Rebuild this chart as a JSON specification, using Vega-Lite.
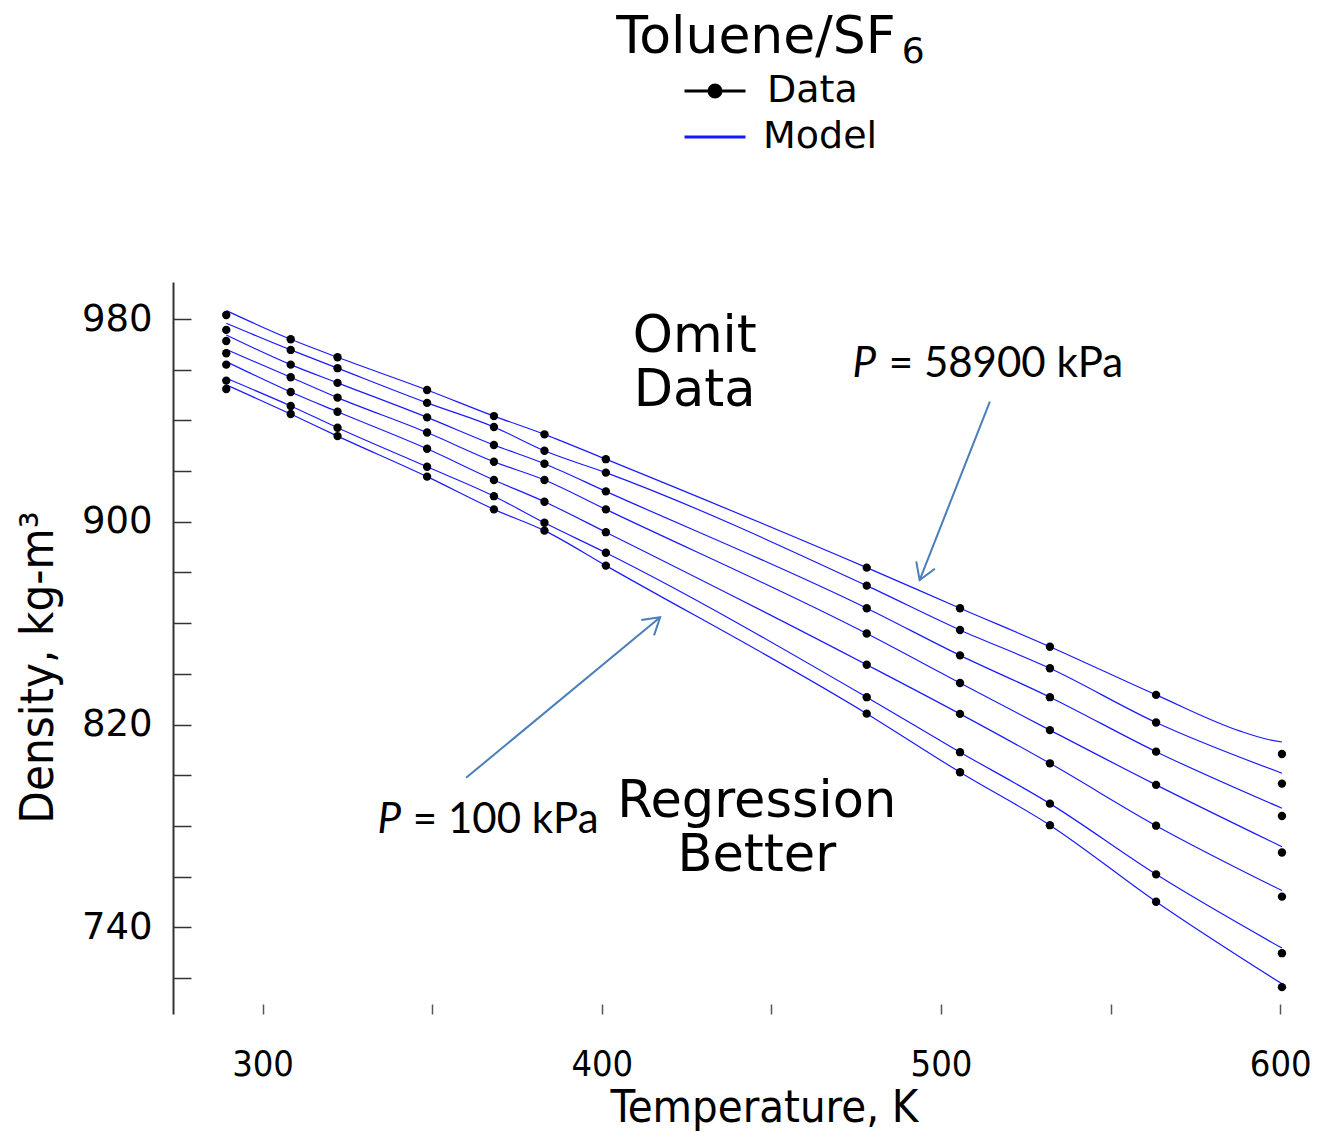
{
  "$schema": "https://vega.github.io/schema/vega-lite/v6.json",
  "width": 1112,
  "height": 732,
  "autosize": {"type": "none"},
  "padding": {"left": 173, "top": 282, "right": 45, "bottom": 118},
  "background": "white",
  "config": {"view": {"stroke": null}, "font": "DejaVu Sans"},
  "title": {
    "text": "Toluene/SF",
    "font": "DejaVu Sans",
    "fontSize": 52,
    "fontWeight": "normal",
    "color": "black",
    "anchor": "middle",
    "frame": "group",
    "dx": 27,
    "baseline": "alphabetic",
    "offset": -71
  },
  "datasets": {
    "model": [
      {"s":1,"kind":"Model","T":289.3,"D":983.3},{"s":1,"kind":"Model","T":308.3,"D":972.0},{"s":1,"kind":"Model","T":322.1,"D":964.9},{"s":1,"kind":"Model","T":348.5,"D":952.0},{"s":1,"kind":"Model","T":368.2,"D":941.7},{"s":1,"kind":"Model","T":383.1,"D":934.5},{"s":1,"kind":"Model","T":401.2,"D":924.7},{"s":1,"kind":"Model","T":478.1,"D":881.9},{"s":1,"kind":"Model","T":505.6,"D":865.9},{"s":1,"kind":"Model","T":532.1,"D":850.7},{"s":1,"kind":"Model","T":563.4,"D":831.7},{"s":1,"kind":"Model","T":588.2,"D":817.4},{"s":1,"kind":"Model","T":596.1,"D":814.2},{"s":1,"kind":"Model","T":600.5,"D":813.1},
      {"s":2,"kind":"Model","T":289.3,"D":978.3},{"s":2,"kind":"Model","T":308.3,"D":967.8},{"s":2,"kind":"Model","T":322.1,"D":960.6},{"s":2,"kind":"Model","T":348.5,"D":946.9},{"s":2,"kind":"Model","T":368.2,"D":937.4},{"s":2,"kind":"Model","T":383.1,"D":928.0},{"s":2,"kind":"Model","T":401.2,"D":919.4},{"s":2,"kind":"Model","T":478.1,"D":874.8},{"s":2,"kind":"Model","T":505.6,"D":857.3},{"s":2,"kind":"Model","T":532.1,"D":842.2},{"s":2,"kind":"Model","T":563.4,"D":820.8},{"s":2,"kind":"Model","T":600.5,"D":800.8},
      {"s":3,"kind":"Model","T":289.3,"D":973.7},{"s":3,"kind":"Model","T":308.3,"D":962.0},{"s":3,"kind":"Model","T":322.1,"D":954.8},{"s":3,"kind":"Model","T":348.5,"D":941.2},{"s":3,"kind":"Model","T":368.2,"D":930.3},{"s":3,"kind":"Model","T":383.1,"D":922.9},{"s":3,"kind":"Model","T":401.2,"D":912.0},{"s":3,"kind":"Model","T":478.1,"D":865.9},{"s":3,"kind":"Model","T":505.6,"D":847.3},{"s":3,"kind":"Model","T":532.1,"D":830.8},{"s":3,"kind":"Model","T":563.4,"D":809.3},{"s":3,"kind":"Model","T":600.5,"D":787.0},
      {"s":4,"kind":"Model","T":289.3,"D":968.0},{"s":4,"kind":"Model","T":308.3,"D":957.0},{"s":4,"kind":"Model","T":322.1,"D":949.0},{"s":4,"kind":"Model","T":348.5,"D":935.2},{"s":4,"kind":"Model","T":368.2,"D":923.7},{"s":4,"kind":"Model","T":383.1,"D":916.5},{"s":4,"kind":"Model","T":401.2,"D":904.9},{"s":4,"kind":"Model","T":478.1,"D":855.9},{"s":4,"kind":"Model","T":505.6,"D":836.4},{"s":4,"kind":"Model","T":532.1,"D":817.8},{"s":4,"kind":"Model","T":563.4,"D":796.2},{"s":4,"kind":"Model","T":600.5,"D":771.8},
      {"s":5,"kind":"Model","T":289.3,"D":963.2},{"s":5,"kind":"Model","T":308.3,"D":951.2},{"s":5,"kind":"Model","T":322.1,"D":943.4},{"s":5,"kind":"Model","T":348.5,"D":928.8},{"s":5,"kind":"Model","T":368.2,"D":916.5},{"s":5,"kind":"Model","T":383.1,"D":907.9},{"s":5,"kind":"Model","T":401.2,"D":895.9},{"s":5,"kind":"Model","T":478.1,"D":843.6},{"s":5,"kind":"Model","T":505.6,"D":824.2},{"s":5,"kind":"Model","T":532.1,"D":804.7},{"s":5,"kind":"Model","T":563.4,"D":780.1},{"s":5,"kind":"Model","T":600.5,"D":754.5},
      {"s":6,"kind":"Model","T":289.3,"D":956.6},{"s":6,"kind":"Model","T":308.3,"D":945.7},{"s":6,"kind":"Model","T":322.1,"D":937.1},{"s":6,"kind":"Model","T":348.5,"D":921.7},{"s":6,"kind":"Model","T":368.2,"D":910.1},{"s":6,"kind":"Model","T":383.1,"D":899.6},{"s":6,"kind":"Model","T":401.2,"D":887.8},{"s":6,"kind":"Model","T":478.1,"D":830.8},{"s":6,"kind":"Model","T":505.6,"D":809.1},{"s":6,"kind":"Model","T":532.1,"D":788.8},{"s":6,"kind":"Model","T":563.4,"D":760.9},{"s":6,"kind":"Model","T":600.5,"D":731.8},
      {"s":7,"kind":"Model","T":289.3,"D":954.0},{"s":7,"kind":"Model","T":308.3,"D":942.5},{"s":7,"kind":"Model","T":322.1,"D":933.8},{"s":7,"kind":"Model","T":348.5,"D":917.8},{"s":7,"kind":"Model","T":368.2,"D":904.9},{"s":7,"kind":"Model","T":383.1,"D":896.5},{"s":7,"kind":"Model","T":401.2,"D":882.7},{"s":7,"kind":"Model","T":478.1,"D":824.3},{"s":7,"kind":"Model","T":505.6,"D":801.2},{"s":7,"kind":"Model","T":532.1,"D":780.3},{"s":7,"kind":"Model","T":563.4,"D":750.1},{"s":7,"kind":"Model","T":600.5,"D":717.7}
    ],
    "points": [
      {"s":1,"kind":"Data","T":289.3,"D":981.6},{"s":2,"kind":"Data","T":289.3,"D":975.7},{"s":3,"kind":"Data","T":289.3,"D":971.3},{"s":4,"kind":"Data","T":289.3,"D":966.5},{"s":5,"kind":"Data","T":289.3,"D":962.0},{"s":6,"kind":"Data","T":289.3,"D":955.7},{"s":7,"kind":"Data","T":289.3,"D":952.4},
      {"s":1,"kind":"Data","T":308.3,"D":972.0},{"s":2,"kind":"Data","T":308.3,"D":967.8},{"s":3,"kind":"Data","T":308.3,"D":962.0},{"s":4,"kind":"Data","T":308.3,"D":957.0},{"s":5,"kind":"Data","T":308.3,"D":951.2},{"s":6,"kind":"Data","T":308.3,"D":945.7},{"s":7,"kind":"Data","T":308.3,"D":942.5},
      {"s":1,"kind":"Data","T":322.1,"D":964.9},{"s":2,"kind":"Data","T":322.1,"D":960.6},{"s":3,"kind":"Data","T":322.1,"D":954.8},{"s":4,"kind":"Data","T":322.1,"D":949.0},{"s":5,"kind":"Data","T":322.1,"D":943.4},{"s":6,"kind":"Data","T":322.1,"D":937.1},{"s":7,"kind":"Data","T":322.1,"D":933.8},
      {"s":1,"kind":"Data","T":348.5,"D":952.0},{"s":2,"kind":"Data","T":348.5,"D":946.9},{"s":3,"kind":"Data","T":348.5,"D":941.2},{"s":4,"kind":"Data","T":348.5,"D":935.2},{"s":5,"kind":"Data","T":348.5,"D":928.8},{"s":6,"kind":"Data","T":348.5,"D":921.7},{"s":7,"kind":"Data","T":348.5,"D":917.8},
      {"s":1,"kind":"Data","T":368.2,"D":941.7},{"s":2,"kind":"Data","T":368.2,"D":937.4},{"s":3,"kind":"Data","T":368.2,"D":930.3},{"s":4,"kind":"Data","T":368.2,"D":923.7},{"s":5,"kind":"Data","T":368.2,"D":916.5},{"s":6,"kind":"Data","T":368.2,"D":910.1},{"s":7,"kind":"Data","T":368.2,"D":904.9},
      {"s":1,"kind":"Data","T":383.1,"D":934.5},{"s":2,"kind":"Data","T":383.1,"D":928.0},{"s":3,"kind":"Data","T":383.1,"D":922.9},{"s":4,"kind":"Data","T":383.1,"D":916.5},{"s":5,"kind":"Data","T":383.1,"D":907.9},{"s":6,"kind":"Data","T":383.1,"D":899.6},{"s":7,"kind":"Data","T":383.1,"D":896.5},
      {"s":1,"kind":"Data","T":401.2,"D":924.7},{"s":2,"kind":"Data","T":401.2,"D":919.4},{"s":3,"kind":"Data","T":401.2,"D":912.0},{"s":4,"kind":"Data","T":401.2,"D":904.9},{"s":5,"kind":"Data","T":401.2,"D":895.9},{"s":6,"kind":"Data","T":401.2,"D":887.8},{"s":7,"kind":"Data","T":401.2,"D":882.7},
      {"s":1,"kind":"Data","T":478.1,"D":881.9},{"s":2,"kind":"Data","T":478.1,"D":874.8},{"s":3,"kind":"Data","T":478.1,"D":865.9},{"s":4,"kind":"Data","T":478.1,"D":855.9},{"s":5,"kind":"Data","T":478.1,"D":843.6},{"s":6,"kind":"Data","T":478.1,"D":830.8},{"s":7,"kind":"Data","T":478.1,"D":824.3},
      {"s":1,"kind":"Data","T":505.6,"D":865.9},{"s":2,"kind":"Data","T":505.6,"D":857.3},{"s":3,"kind":"Data","T":505.6,"D":847.3},{"s":4,"kind":"Data","T":505.6,"D":836.4},{"s":5,"kind":"Data","T":505.6,"D":824.2},{"s":6,"kind":"Data","T":505.6,"D":809.1},{"s":7,"kind":"Data","T":505.6,"D":801.2},
      {"s":1,"kind":"Data","T":532.1,"D":850.7},{"s":2,"kind":"Data","T":532.1,"D":842.2},{"s":3,"kind":"Data","T":532.1,"D":830.8},{"s":4,"kind":"Data","T":532.1,"D":817.8},{"s":5,"kind":"Data","T":532.1,"D":804.7},{"s":6,"kind":"Data","T":532.1,"D":788.8},{"s":7,"kind":"Data","T":532.1,"D":780.3},
      {"s":1,"kind":"Data","T":563.4,"D":831.7},{"s":2,"kind":"Data","T":563.4,"D":820.8},{"s":3,"kind":"Data","T":563.4,"D":809.3},{"s":4,"kind":"Data","T":563.4,"D":796.2},{"s":5,"kind":"Data","T":563.4,"D":780.1},{"s":6,"kind":"Data","T":563.4,"D":760.9},{"s":7,"kind":"Data","T":563.4,"D":750.1},
      {"s":1,"kind":"Data","T":600.5,"D":808.4},{"s":2,"kind":"Data","T":600.5,"D":796.7},{"s":3,"kind":"Data","T":600.5,"D":783.9},{"s":4,"kind":"Data","T":600.5,"D":769.5},{"s":5,"kind":"Data","T":600.5,"D":752.1},{"s":6,"kind":"Data","T":600.5,"D":729.8},{"s":7,"kind":"Data","T":600.5,"D":716.4}
    ],
    "arrows": [
      {"T":514.4,"D":947.4,"T2":493.7,"D2":877.0,"ang":111.5},
      {"T":360.0,"D":799.0,"T2":417.2,"D2":862.3,"ang":320.4}
    ],
    "notes": [
      {"T":427.4,"D":967.0,"label":"Omit\nData"},
      {"T":445.7,"D":783.4,"label":"Regression\nBetter"}
    ],
    "pitalic": [
      {"T":473.9,"D":957.2,"label":"P"},
      {"T":333.9,"D":777.1,"label":"P"}
    ],
    "prest": [
      {"T":484.6,"D":957.2,"label":"= 58900 kPa"},
      {"T":344.3,"D":777.1,"label":"= 100 kPa"}
    ],
    "subscript": [
      {"T":488.4,"D":1080.9,"label":"6"}
    ]
  },
  "layer": [
    {
      "data": {"name": "model"},
      "mark": {"type": "line", "strokeWidth": 1.2, "opacity": 0.9, "interpolate": "monotone"},
      "encoding": {
        "x": {
          "field": "T", "type": "quantitative",
          "scale": {"domain": [273.6, 601.4], "nice": false, "zero": false},
          "axis": {
            "title": "Temperature, K",
            "values": [300, 350, 400, 450, 500, 550, 600],
            "labelExpr": "datum.value % 100 == 0 ? datum.label : ''",
            "domain": false, "grid": false,
            "tickSize": -10, "tickColor": "#555555", "tickWidth": 1.5,
            "labelPadding": 43,
            "labelFont": "'DejaVu Sans Condensed', 'Liberation Sans Narrow', 'DejaVu Sans'",
            "labelFontSize": 36, "labelColor": "black",
            "titleFont": "'DejaVu Sans Condensed', 'Liberation Sans Narrow', 'DejaVu Sans'",
            "titleFontSize": 45, "titleFontWeight": "normal", "titleColor": "black",
            "titleX": 591, "titleY": 107, "titleBaseline": "alphabetic", "titleAnchor": null
          }
        },
        "y": {
          "field": "D", "type": "quantitative",
          "scale": {"domain": [705.8, 994.6], "nice": false, "zero": false},
          "axis": {
            "title": "Density, kg-m³",
            "values": [720, 740, 760, 780, 800, 820, 840, 860, 880, 900, 920, 940, 960, 980],
            "labelExpr": "datum.value % 80 == 20 ? datum.label : ''",
            "domain": true, "domainColor": "#333333", "domainWidth": 2, "grid": false,
            "tickSize": -18, "tickColor": "#333333", "tickWidth": 1.5,
            "labelPadding": 39,
            "labelFont": "DejaVu Sans", "labelFontSize": 37, "labelColor": "black",
            "titleFont": "'DejaVu Sans Condensed', 'Liberation Sans Narrow', 'DejaVu Sans'",
            "titleFontSize": 47, "titleFontWeight": "normal", "titleColor": "black",
            "titleX": -121, "titleY": 385, "titleBaseline": "alphabetic", "titleAnchor": null
          }
        },
        "color": {
          "field": "kind", "type": "nominal",
          "scale": {"domain": ["Model"], "range": ["#0000ff"]},
          "legend": {
            "orient": "none", "legendX": 510, "legendY": -168,
            "title": null, "direction": "vertical",
            "symbolSize": 3721, "symbolStrokeWidth": 3, "symbolType": "stroke",
            "labelFont": "DejaVu Sans", "labelFontSize": 38, "labelColor": "black",
            "labelOffset": 16, "rowPadding": 0, "clipHeight": 46, "padding": 0
          }
        },
        "detail": {"field": "s", "type": "nominal"}
      }
    },
    {
      "data": {"name": "points"},
      "transform": [{"filter": "false"}],
      "mark": {"type": "point", "filled": false, "color": "black", "strokeWidth": 3, "size": 3721, "opacity": 1},
      "encoding": {
        "x": {"field": "T", "type": "quantitative"},
        "y": {"field": "D", "type": "quantitative"},
        "shape": {
          "field": "kind", "type": "nominal",
          "scale": {"domain": ["Data"], "range": ["M-1,0H1M-0.197,0A0.197,0.197,0,1,0,0.197,0A0.197,0.197,0,1,0,-0.197,0M-0.098,0A0.098,0.098,0,1,0,0.098,0A0.098,0.098,0,1,0,-0.098,0M-0.03,0H0.03"]},
          "legend": {
            "orient": "none", "legendX": 510, "legendY": -214,
            "title": null, "direction": "vertical",
            "symbolSize": 3721, "symbolStrokeWidth": 3, "symbolStrokeColor": "black",
            "labelFont": "DejaVu Sans", "labelFontSize": 38, "labelColor": "black",
            "labelOffset": 20, "rowPadding": 0, "clipHeight": 46, "padding": 0
          }
        }
      }
    },
    {
      "data": {"name": "points"},
      "mark": {"type": "point", "filled": true, "size": 70, "color": "black", "opacity": 1},
      "encoding": {
        "x": {"field": "T", "type": "quantitative"},
        "y": {"field": "D", "type": "quantitative"}
      }
    },
    {
      "data": {"name": "arrows"},
      "mark": {"type": "rule", "color": "#4a7ebb", "strokeWidth": 2},
      "encoding": {
        "x": {"field": "T", "type": "quantitative"},
        "y": {"field": "D", "type": "quantitative"},
        "x2": {"field": "T2"},
        "y2": {"field": "D2"}
      }
    },
    {
      "data": {"name": "arrows"},
      "mark": {"type": "point", "shape": "M-1,-0.62L0,0L-1,0.62", "filled": false, "size": 1050, "stroke": "#4a7ebb", "strokeWidth": 2, "opacity": 1},
      "encoding": {
        "x": {"field": "T2", "type": "quantitative"},
        "y": {"field": "D2", "type": "quantitative"},
        "angle": {"field": "ang", "type": "quantitative", "scale": null}
      }
    },
    {
      "data": {"name": "notes"},
      "mark": {"type": "text", "font": "DejaVu Sans", "fontSize": 51, "align": "center", "baseline": "alphabetic", "lineBreak": "\n", "lineHeight": 54, "color": "black"},
      "encoding": {
        "x": {"field": "T", "type": "quantitative"},
        "y": {"field": "D", "type": "quantitative"},
        "text": {"field": "label"}
      }
    },
    {
      "data": {"name": "pitalic"},
      "mark": {"type": "text", "font": "Lato", "fontSize": 42, "fontStyle": "italic", "align": "left", "baseline": "alphabetic", "color": "black"},
      "encoding": {
        "x": {"field": "T", "type": "quantitative"},
        "y": {"field": "D", "type": "quantitative"},
        "text": {"field": "label"}
      }
    },
    {
      "data": {"name": "prest"},
      "mark": {"type": "text", "font": "Lato", "fontSize": 42, "align": "left", "baseline": "alphabetic", "color": "black"},
      "encoding": {
        "x": {"field": "T", "type": "quantitative"},
        "y": {"field": "D", "type": "quantitative"},
        "text": {"field": "label"}
      }
    },
    {
      "data": {"name": "subscript"},
      "mark": {"type": "text", "font": "DejaVu Sans", "fontSize": 36, "align": "left", "baseline": "alphabetic", "color": "black", "clip": false},
      "encoding": {
        "x": {"field": "T", "type": "quantitative"},
        "y": {"field": "D", "type": "quantitative"},
        "text": {"field": "label"}
      }
    }
  ]
}
